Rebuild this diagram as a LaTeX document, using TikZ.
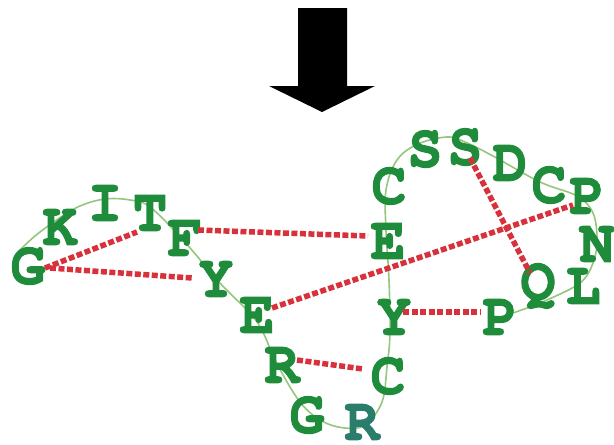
\documentclass[tikz,border=0pt]{standalone}
\usepackage{fontspec}
\newfontfamily\letterfont{texgyrecursor-bold.otf}[FakeStretch=0.95,FakeBold=1.8]
\usetikzlibrary{calc}
\definecolor{aagreen}{HTML}{1E8C3A}
\definecolor{aateal}{HTML}{2B7D6B}
\definecolor{chain}{HTML}{94C67C}
\definecolor{bond}{HTML}{D8313C}
\tikzset{
  aa/.style={inner sep=0pt, text=aagreen, font=\letterfont\fontsize{61}{61}\selectfont},
  bondline/.style={draw=bond, line width=5.5pt, dash pattern=on 6pt off 2.5pt},
  chainline/.style={draw=chain, line width=1.6pt},
}
\begin{document}
\begin{tikzpicture}[x=1pt,y=-1pt]
\useasboundingbox (0,0) rectangle (614,445);
% arrow
\fill[black] (298,8) -- (347,8) -- (347,86) -- (375,86) -- (322,112) -- (269,86) -- (298,86) -- cycle;
% chain
\draw[chainline] plot[smooth, tension=0.6] coordinates {(18,252) (35,236) (58,219) (80,206) (105,199) (130,200) (150,207) (183,240) (220,283) (257,322) (276,362) (300,402) (322,421) (345,428) (365,425) (382,402) (387,367) (390,333) (389,280) (386,230) (386,190) (397,160) (418,144) (447,137) (465,142) (493,156) (540,182) (577,196) (593,213) (597,240) (593,263) (580,283) (547,300) (527,308) (490,321)};
% letters
\node[aa] (G1) at (28,266) {G};
\node[aa] (K) at (60,227) {K};
\node[aa] (I) at (105,203) {I};
\node[aa] (T) at (150,213) {T};
\node[aa] (F) at (185,238) {F};
\node[aa] (Y1) at (216,279) {Y};
\node[aa] (E1) at (257,315) {E};
\node[aa] (R1) at (282,365) {R};
\node[aa] (G2) at (307,415) {G};
\node[aa,text=aateal] (R2) at (362,422) {R};
\node[aa] (C1) at (388,376) {C};
\node[aa] (Y2) at (394,317) {Y};
\node[aa] (E2) at (388,241) {E};
\node[aa] (C2) at (389,186) {C};
\node[aa] (S1) at (425,149) {S};
\node[aa] (S2) at (465,147) {S};
\node[aa] (D) at (510,163) {D};
\node[aa] (C3) at (549,185) {C};
\node[aa] (P1) at (587,196) {P};
\node[aa] (N) at (597,244) {N};
\node[aa] (L) at (583,286) {L};
\node[aa] (Q) at (538,286) {Q};
\node[aa] (P2) at (500,317) {P};
% bonds
\draw[bondline] ($(G1)+(17,2)$) -- ($(T)+(-13,19)$);
\draw[bondline] ($(G1)+(22,2)$) -- ($(Y1)+(-24,-1)$);
\draw[bondline] ($(F)+(13,-8)$) -- ($(E2)+(-20,-5)$);
\draw[bondline] ($(E1)+(15,-7)$) -- ($(P1)+(-14,9)$);
\draw[bondline] ($(S2)+(5,11)$) -- ($(Q)+(-8,-13)$);
\draw[bondline] ($(Y2)+(9,-5)$) -- ($(P2)+(-20,-5)$);
\draw[bondline] ($(R1)+(15,-5)$) -- ($(C1)+(-25,-7)$);
\end{tikzpicture}
\end{document}
